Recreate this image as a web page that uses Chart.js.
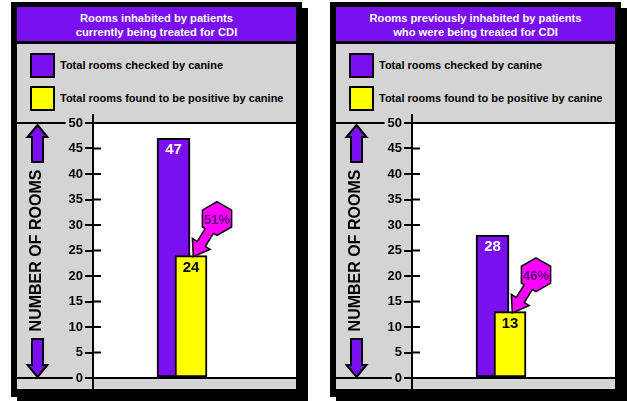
<!DOCTYPE html>
<html><head><meta charset="utf-8">
<script src="https://cdn.jsdelivr.net/npm/chart.js@4.4.1/dist/chart.umd.min.js"></script>
<style>
html,body{margin:0;padding:0;background:#fff;width:627px;height:401px;overflow:hidden;font-family:"Liberation Sans",Arial,sans-serif;}
.panel{position:absolute;top:2px;width:279px;height:382px;border-style:solid;border-color:#000;border-width:5px 6px 8px 6px;box-shadow:6px 6px 0 #000;background:#D4D4D4;}
.header{height:37px;box-sizing:border-box;background:#7A10EF;color:#fff;font-weight:bold;font-size:11.2px;line-height:14px;text-align:center;padding-top:4px;border-bottom:3px solid #000;}
.legend{position:relative;height:68px;background:#D4D4D4;}
.sw{position:absolute;left:13px;width:25px;height:25px;border:2px solid #000;box-sizing:border-box;}
.lt{position:absolute;left:43px;font-weight:bold;font-size:11px;line-height:25px;color:#000;white-space:nowrap;}
canvas{display:block;}
</style></head>
<body>
<div id="root"></div>
<script>
// ---- data ----
const panelTitles = [
  ['Rooms inhabited by patients', 'currently being treated for CDI'],
  ['Rooms previously inhabited by patients', 'who were being treated for CDI']
];
const seriesNames = ['Total rooms checked by canine', 'Total rooms found to be positive by canine'];
const roomsChecked = [47, 28];
const roomsPositive = [24, 13];
const percentLabels = ['51%', '46%'];
const yMin = 0, yMax = 50, yStep = 5;
const axisTitle = 'NUMBER OF ROOMS';

// ---- style ----
const PURPLE = '#7A10EF', YELLOW = '#FFFF00', GRAY = '#D4D4D4', MAGENTA = '#FF00FF', PCT_TEXT = '#5C0078';
const FONT = '"Liberation Sans", Arial, sans-serif';
const panelLefts = [11, 330];
const seriesColors = [PURPLE, YELLOW];

const root = document.getElementById('root');

function line(ctx, x1, y1, x2, y2) { ctx.beginPath(); ctx.moveTo(x1, y1); ctx.lineTo(x2, y2); ctx.stroke(); }

const bgPlugin = {
  id: 'bgPlugin',
  beforeDraw(chart) {
    const { ctx, chartArea: a, width, height } = chart;
    ctx.save();
    ctx.fillStyle = GRAY; ctx.fillRect(0, 0, width, height);
    ctx.fillStyle = '#fff'; ctx.fillRect(a.left, a.top, a.right - a.left, a.bottom - a.top);
    ctx.restore();
  }
};

function drawArrow(ctx, x, yTip, yEnd, up) {
  const hw = 10, sw = 5.5, hl = 12;
  const dir = up ? 1 : -1;
  const yBase = yTip + dir * hl;
  ctx.beginPath();
  ctx.moveTo(x, yTip);
  ctx.lineTo(x + hw, yBase);
  ctx.lineTo(x + sw, yBase);
  ctx.lineTo(x + sw, yEnd);
  ctx.lineTo(x - sw, yEnd);
  ctx.lineTo(x - sw, yBase);
  ctx.lineTo(x - hw, yBase);
  ctx.closePath();
  ctx.fillStyle = PURPLE; ctx.fill();
  ctx.lineWidth = 2; ctx.strokeStyle = '#000'; ctx.stroke();
}

function drawCallout(ctx, tipX, tipY, text) {
  const cx = tipX + 23, cy = tipY - 37, R = 16;
  const hex = [];
  for (let k = 0; k < 6; k++) {
    const ang = (-90 + 60 * k) * Math.PI / 180;
    hex.push([cx + R * Math.cos(ang), cy + R * Math.sin(ang)]);
  }
  const dx = tipX - cx, dy = tipY - cy, L = Math.hypot(dx, dy);
  const ux = dx / L, uy = dy / L, nx = -uy, ny = ux;
  const hl = 13, hw = 9, sw = 4;
  const bx = tipX - ux * hl, by = tipY - uy * hl;
  const arrow = [[cx + nx * sw, cy + ny * sw], [bx + nx * sw, by + ny * sw], [bx + nx * hw, by + ny * hw], [tipX, tipY],
                 [bx - nx * hw, by - ny * hw], [bx - nx * sw, by - ny * sw], [cx - nx * sw, cy - ny * sw]];
  const path = pts => { ctx.beginPath(); pts.forEach((p, i) => i ? ctx.lineTo(p[0], p[1]) : ctx.moveTo(p[0], p[1])); ctx.closePath(); };
  ctx.save();
  ctx.strokeStyle = '#000'; ctx.lineWidth = 3; ctx.lineJoin = 'miter';
  path(hex); ctx.stroke(); path(arrow); ctx.stroke();
  ctx.fillStyle = MAGENTA;
  path(hex); ctx.fill(); path(arrow); ctx.fill();
  ctx.fillStyle = PCT_TEXT;
  ctx.font = 'bold 13px ' + FONT;
  ctx.textAlign = 'center'; ctx.textBaseline = 'middle';
  ctx.fillText(text, cx, cy + 2);
  ctx.restore();
}

function makeDecorPlugin(p) {
  return {
    id: 'decor' + p,
    afterDatasetsDraw(chart) {
      const { ctx, chartArea: a, width, height } = chart;
      const ys = chart.scales.y;
      ctx.save();
      ctx.strokeStyle = '#000'; ctx.lineWidth = 2;
      ctx.font = 'bold 13px ' + FONT;
      [yMax, yMin].forEach(v => {
        const y = ys.getPixelForValue(v);
        const lw = ctx.measureText(String(v)).width;
        const labelLeft = a.left - 8 - 2 - lw;
        line(ctx, 0, y, labelLeft - 3, y);
        line(ctx, a.left - 8, y, width, y);
      });
      line(ctx, a.left, 2, a.left, height);
      ys.ticks.forEach(t => { const y = ys.getPixelForValue(t.value); line(ctx, a.left, y, a.left + 8, y); });
      const ax = 20.5;
      drawArrow(ctx, ax, a.top + 2, a.top + 39, true);
      drawArrow(ctx, ax, a.bottom - 1, a.bottom - 39, false);
      ctx.font = 'bold 15px ' + FONT;
      ctx.textAlign = 'center'; ctx.textBaseline = 'middle';
      chart.data.datasets.forEach((ds, di) => {
        const meta = chart.getDatasetMeta(di);
        meta.data.forEach((bar, j) => {
          ctx.fillStyle = di === 0 ? '#fff' : '#000';
          ctx.fillText(String(ds.data[j].y), bar.x, bar.y + 12);
        });
      });
      const yb = chart.getDatasetMeta(1).data[0];
      drawCallout(ctx, yb.x + 3, yb.y, percentLabels[p]);
      ctx.restore();
    }
  };
}

panelTitles.forEach((title, p) => {
  const panel = document.createElement('div');
  panel.className = 'panel';
  panel.style.left = panelLefts[p] + 'px';
  const header = document.createElement('div');
  header.className = 'header';
  header.innerHTML = title[0] + '<br>' + title[1];
  panel.appendChild(header);
  const legend = document.createElement('div');
  legend.className = 'legend';
  seriesNames.forEach((name, i) => {
    const sw = document.createElement('div');
    sw.className = 'sw'; sw.style.top = (9 + 33 * i) + 'px'; sw.style.background = seriesColors[i];
    const lt = document.createElement('div');
    lt.className = 'lt'; lt.style.top = (9 + 33 * i) + 'px'; lt.textContent = name;
    legend.appendChild(sw); legend.appendChild(lt);
  });
  panel.appendChild(legend);
  const canvas = document.createElement('canvas');
  canvas.width = 279; canvas.height = 277;
  panel.appendChild(canvas);
  root.appendChild(panel);

  const values = [roomsChecked[p], roomsPositive[p]];
  new Chart(canvas.getContext('2d'), {
    type: 'bar',
    data: {
      datasets: seriesNames.map((name, i) => ({
        label: name,
        data: [{ x: i, y: values[i] }],
        backgroundColor: seriesColors[i],
        borderColor: '#000',
        borderWidth: 2,
        borderSkipped: false,
        barThickness: i === 0 ? 33 : 32,
        grouped: false,
        order: i === 0 ? 1 : 0
      }))
    },
    options: {
      responsive: false,
      animation: false,
      devicePixelRatio: 1,
      layout: { padding: { top: 11, bottom: 11, left: 0, right: 0 } },
      plugins: { legend: { display: false }, tooltip: { enabled: false } },
      scales: {
        x: { type: 'linear', min: -4.6, max: 7.0, offset: false, display: false },
        y: {
          min: yMin, max: yMax,
          ticks: { stepSize: yStep, color: '#000', padding: 2, font: { family: FONT, size: 13, weight: 'bold' } },
          grid: { drawOnChartArea: false, color: '#000', lineWidth: 2, tickLength: 8 },
          border: { display: false },
          title: { display: true, text: axisTitle, color: '#000', font: { family: FONT, size: 16, weight: 'bold' }, padding: { top: 10.4, bottom: 0 } },
          afterFit(s) { s.width = 76; }
        }
      }
    },
    plugins: [bgPlugin, makeDecorPlugin(p)]
  });
});
</script>
</body></html>
